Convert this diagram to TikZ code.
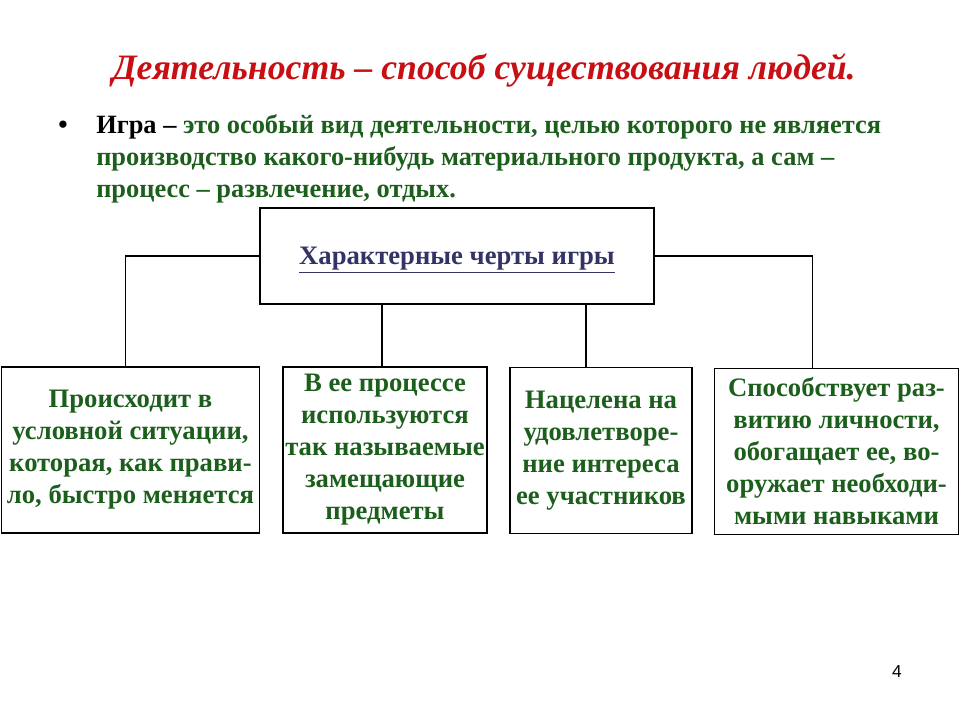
\documentclass[tikz,border=0pt]{standalone}
\usepackage{fontspec}
\setmainfont{Liberation Serif}
\newfontfamily\numfont{Liberation Sans}
\definecolor{titlered}{HTML}{C80F14}
\definecolor{txtgreen}{HTML}{1C5E1C}
\definecolor{headnavy}{HTML}{333366}
\tikzset{
  box/.style={draw=black, line width=0.8pt, inner sep=0pt, align=center,
    font=\fontsize{20}{24}\selectfont\bfseries, text=txtgreen},
  conn/.style={draw=black, line width=0.8pt},
}
\begin{document}
\begin{tikzpicture}[x=0.75pt,y=-0.75pt]
\useasboundingbox (0,0) rectangle (960,720);
\node[font=\fontsize{26.8}{32}\selectfont\bfseries\itshape, text=titlered] (title) at (484,70) {Деятельность – способ существования людей.};
\node[font=\fontsize{20}{24}\selectfont\bfseries] (bullet) at (63,127) {•};
\node[anchor=north west, inner sep=0pt, align=left, font=\fontsize{19.8}{24}\selectfont\bfseries, text=txtgreen] (para) at (96,114)
 {\textcolor{black}{Игра –} это особый вид деятельности, целью которого не является\\
  производство какого-нибудь материального продукта, а сам –\\
  процесс – развлечение, отдых.};
\node[box, minimum width=295.5pt, minimum height=72pt, text=headnavy, text height=20pt, text depth=6.5pt] (top) at (457,256) {\underline{Характерные черты игры}};
\node[box, minimum width=194pt, minimum height=124.5pt] (b1) at (130.5,450) {Происходит в\\условной ситуации,\\которая, как прави-\\ло, быстро меняется};
\node[box, minimum width=153pt, minimum height=124.5pt] (b2) at (385,450) {В ее процессе\\используются\\так называемые\\замещающие\\предметы};
\node[box, minimum width=136.5pt, minimum height=125pt] (b3) at (601,450.5) {Нацелена на\\удовлетворе-\\ние интереса\\ее участников};
\node[box, minimum width=183.5pt, minimum height=125pt] (b4) at (836.5,451.5) {Способствует раз-\\витию личности,\\обогащает ее, во-\\оружает необходи-\\мыми навыками};
\draw[conn] (top.west) -| ([xshift=-4pt]b1.north);
\draw[conn] (top.east) -| ([xshift=-18pt]b4.north);
\draw[conn] ([xshift=-2.25pt]b2.north) -- ([xshift=-2.25pt]b2.north |- top.south);
\draw[conn] ([xshift=-11.25pt]b3.north) -- ([xshift=-11.25pt]b3.north |- top.south);
\node[font=\numfont\fontsize{13}{15}\selectfont] (num) at (897,672) {4};
\end{tikzpicture}
\end{document}
